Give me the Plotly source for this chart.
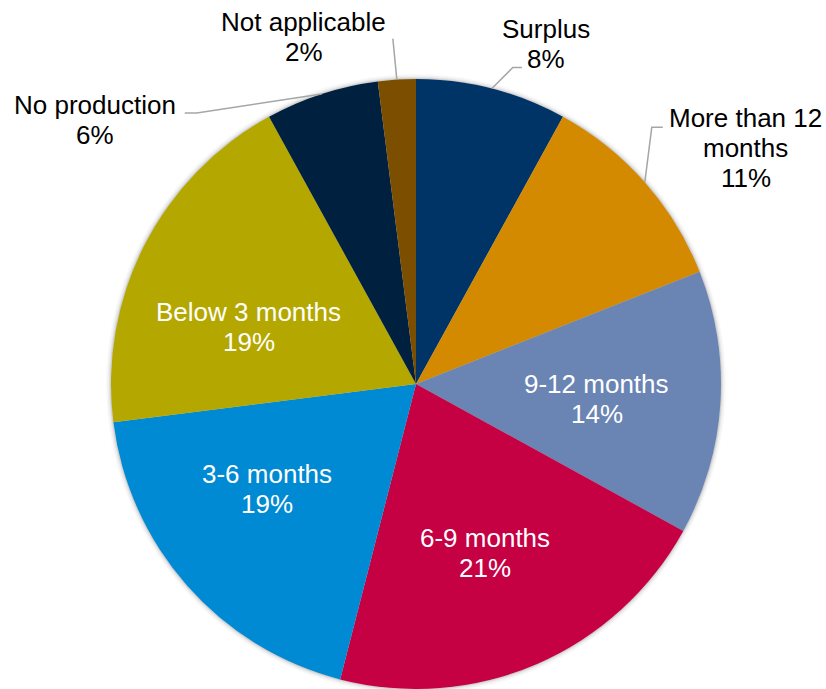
import math
import plotly.graph_objects as go

# Stock position reported by respondents (share of responses, %)
categories = ["Surplus", "More than 12 months", "9-12 months", "6-9 months",
              "3-6 months", "Below 3 months", "No production", "Not applicable"]
shares = [8, 11, 14, 21, 19, 19, 6, 2]
# how each category name is broken over lines on the chart
name_lines = [["Surplus"], ["More than 12", "months"], ["9-12 months"], ["6-9 months"],
              ["3-6 months"], ["Below 3 months"], ["No production"], ["Not applicable"]]

colors = ["#003466", "#D38900", "#6A84B4", "#C50043",
          "#008AD3", "#B4A800", "#00203F", "#7C4E00"]

W, H = 826, 689
CX, CY, R = 416, 384, 305          # pie centre and radius in pixels
FONT = "Liberation Sans, Arial, sans-serif"
FSIZE = 26
LINE_GAP = 30

# labels drawn inside the slice: (angle nudge in degrees, radius fraction)
inside_style = {
    "9-12 months": (1.1, 0.595),
    "6-9 months": (1.2, 0.598),
    "3-6 months": (6.2, 0.597),
    "Below 3 months": (-8.2, 0.579),
}
# labels drawn outside with a leader line: pixel offsets from the slice's edge point
outside_style = {
    "Surplus": dict(path=[(21, -21), (30, -21)], text=(54, -45)),
    "More than 12 months": dict(path=[(7, -55), (18, -55)], text=(101, -34)),
    "No production": dict(path=[(-125, 19), (-137, 19)], text=(-227, 26)),
    "Not applicable": dict(path=[(-4, -41)], text=(-93, -43)),
}


def paper(x, y):
    return x / W, 1 - y / H


fig = go.Figure()
fig.add_trace(go.Pie(
    labels=categories,
    values=shares,
    sort=False,
    direction="clockwise",
    rotation=0,
    marker=dict(colors=colors, line=dict(width=0)),
    textinfo="none",
    hoverinfo="label+percent",
    showlegend=False,
    domain=dict(x=[(CX - R) / W, (CX + R) / W],
                y=[1 - (CY + R) / H, 1 - (CY - R) / H]),
))

annotations = []
shapes = []

# soft halo round the pie
for d, a in [(5, 0.025), (3.5, 0.04), (2, 0.06), (1, 0.08)]:
    x0, y0 = paper(CX - R - d, CY + R + d)
    x1, y1 = paper(CX + R + d, CY - R - d)
    shapes.append(dict(type="circle", xref="paper", yref="paper",
                       x0=x0, y0=y0, x1=x1, y1=y1, layer="below",
                       fillcolor=f"rgba(0,0,0,{a})", line=dict(width=0)))


def text_block(lines, cx, cy, color):
    n = len(lines)
    for i, line in enumerate(lines):
        ly = cy + (i - (n - 1) / 2) * LINE_GAP
        px, py = paper(cx, ly)
        annotations.append(dict(
            x=px, y=py, xref="paper", yref="paper", text=line, showarrow=False,
            xanchor="center", yanchor="middle",
            font=dict(family=FONT, size=FSIZE, color=color)))


total = sum(shares)
cum = 0
for cat, v, lines in zip(categories, shares, name_lines):
    mid = (cum + v / 2) / total * 360
    cum += v
    block = lines + [f"{v}%"]
    if cat in inside_style:
        nudge, frac = inside_style[cat]
        ang = math.radians(mid + nudge)
        tx = CX + frac * R * math.sin(ang)
        ty = CY - frac * R * math.cos(ang)
        text_block(block, tx, ty, "white")
    else:
        st = outside_style[cat]
        ang = math.radians(mid)
        ex = CX + R * math.sin(ang)
        ey = CY - R * math.cos(ang)
        pts = [(ex, ey)] + [(ex + dx, ey + dy) for dx, dy in st["path"]]
        p = " ".join(("M" if i == 0 else "L") + " {:.5f},{:.5f}".format(*paper(x, y))
                     for i, (x, y) in enumerate(pts))
        shapes.append(dict(type="path", xref="paper", yref="paper", path=p,
                           line=dict(color="#A6A6A6", width=1.5)))
        text_block(block, ex + st["text"][0], ey + st["text"][1], "#000000")

fig.update_layout(
    width=W, height=H,
    margin=dict(l=0, r=0, t=0, b=0),
    paper_bgcolor="white",
    plot_bgcolor="white",
    annotations=annotations,
    shapes=shapes,
)

fig.write_html("out.html")
